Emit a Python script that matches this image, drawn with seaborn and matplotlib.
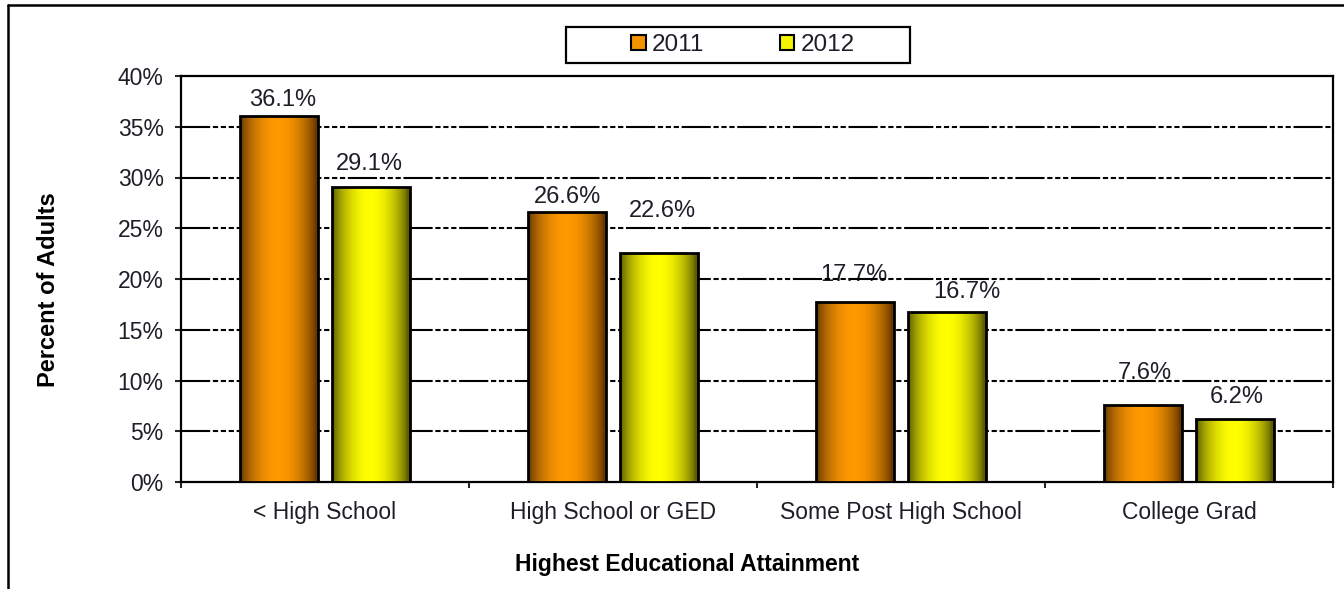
import numpy as np
import pandas as pd
import matplotlib
matplotlib.use("Agg")
import matplotlib.pyplot as plt
import seaborn as sns
from matplotlib.patches import Patch, Rectangle
from matplotlib.lines import Line2D
from matplotlib.ticker import FuncFormatter, FixedLocator

# Share of adults by highest educational attainment
categories = ["< High School", "High School or GED", "Some Post High School", "College Grad"]
years = ["2011", "2012"]
values_2011 = [36.1, 26.6, 17.7, 7.6]
values_2012 = [29.1, 22.6, 16.7, 6.2]
y_ticks = [0, 5, 10, 15, 20, 25, 30, 35, 40]

# value-label placement relative to the top centre of each bar (pixels)
label_dx_2011 = [4, 1, -1, 2]
label_dy_2011 = [16, 15, 27, 32]
label_dx_2012 = [-2, 3, 20, 2]
label_dy_2012 = [23, 42, 20, 22]

bright = {"2011": np.array([1.0, 0.60, 0.0]), "2012": np.array([1.0, 1.0, 0.0])}
dark = {"2011": np.array([0.40, 0.22, 0.0]), "2012": np.array([0.36, 0.36, 0.0])}

df = pd.DataFrame({
    "category": categories * 2,
    "year": [years[0]] * 4 + [years[1]] * 4,
    "value": values_2011 + values_2012,
})

sns.set_style("white")
plt.rcParams["font.family"] = ["Liberation Sans", "DejaVu Sans"]
FS = 16.5
TXT = "#1e1e28"

fig = plt.figure(figsize=(13.44, 5.89), dpi=100)
ax = fig.add_axes([181 / 1344, 1 - 482 / 589, 1152 / 1344, 406 / 589])

sns.barplot(data=df, x="category", y="value", hue="year", hue_order=years,
            order=categories, palette={y: tuple(bright[y]) for y in years},
            width=0.64, gap=0.155, edgecolor="black", linewidth=2.0,
            legend=False, ax=ax, zorder=3)

ax.set_xlim(-0.5, 3.5)
ax.set_ylim(0, 40)

# horizontal shading on each bar: dark edges, bright middle
n = 200
t = np.linspace(0, 1, n)
prof = np.sin(np.pi * np.clip(t * 1.04 - 0.01, 0, 1)) ** 0.75
bars = [p for p in ax.patches if p.get_height() > 0]
for i, bar in enumerate(bars):
    yr = years[0] if i < len(categories) else years[1]
    cols = dark[yr][None, :] + (bright[yr] - dark[yr])[None, :] * prof[:, None]
    img = cols[None, :, :]
    x0, w, h = bar.get_x(), bar.get_width(), bar.get_height()
    im = ax.imshow(img, extent=[x0, x0 + w, 0, h], aspect="auto",
                   interpolation="bilinear", zorder=2.9)
    im.set_clip_path(bar)
    bar.set_facecolor("none")

ax.set_xlim(-0.5, 3.5)
ax.set_ylim(0, 40)

# value labels above bars
vals = values_2011 + values_2012
dxs = label_dx_2011 + label_dx_2012
dys = label_dy_2011 + label_dy_2012
for bar, v, dx, dy in zip(bars, vals, dxs, dys):
    ax.annotate(f"{v:.1f}%", (bar.get_x() + bar.get_width() / 2, v),
                xytext=(dx * 0.72, dy * 0.72), textcoords="offset points",
                ha="center", va="center", fontsize=FS + 0.5, color=TXT, zorder=1)

# dash-dot gridlines
for yv in y_ticks[1:-1]:
    ax.axhline(yv, color="black", linewidth=1.5,
               linestyle=(0, (14, 1.3, 2.5, 1.3, 2.5, 1.3, 2.5, 1.3)), zorder=1.5)

for s in ax.spines.values():
    s.set_visible(True)
    s.set_color("black")
    s.set_linewidth(1.6)

ax.yaxis.set_major_locator(FixedLocator(y_ticks))
ax.yaxis.set_major_formatter(FuncFormatter(lambda v, p: f"{v:.0f}%"))
ax.tick_params(axis="y", which="major", direction="out", length=4.5, width=1.5,
               pad=8, labelsize=FS, labelcolor=TXT, left=True)
ax.set_xticks(range(len(categories)))
ax.set_xticklabels(categories)
ax.set_xticks([-0.5, 0.5, 1.5, 2.5, 3.5], minor=True)
ax.tick_params(axis="x", which="major", length=0, pad=14, labelsize=FS, labelcolor=TXT)
ax.tick_params(axis="x", which="minor", direction="out", length=4.5, width=1.5, bottom=True)

ax.set_xlabel("Highest Educational Attainment", fontsize=FS, fontweight="bold", color="black")
ax.xaxis.set_label_coords(0.439, -0.175)
ax.set_ylabel("Percent of Adults", fontsize=FS + 0.5, fontweight="bold", color="black")
ax.yaxis.set_label_coords(-0.105, 0.473)

# legend with its own box
handles = [Patch(facecolor=tuple(bright[y] * 0.93 + dark[y] * 0.07), edgecolor="black",
                 linewidth=1.5, label=y) for y in years]
fig.legend(handles=handles, loc="center", bbox_to_anchor=(743 / 1344, 1 - 45 / 589),
           ncol=2, frameon=False, fontsize=FS + 1, handlelength=0.6, handleheight=0.6,
           handletextpad=0.25, columnspacing=3.1, labelcolor=TXT)
fig.patches.append(Rectangle((566 / 1344, 1 - 63 / 589), 344 / 1344, 36 / 589,
                             transform=fig.transFigure, fill=False,
                             edgecolor="black", linewidth=1.6))

# outer chart border (left and top edges)
fig.lines.append(Line2D([8 / 1344, 8 / 1344], [0, 1 - 5 / 589], transform=fig.transFigure,
                        color="black", linewidth=1.8))
fig.lines.append(Line2D([8 / 1344, 1.0], [1 - 5 / 589, 1 - 5 / 589], transform=fig.transFigure,
                        color="black", linewidth=1.8))

fig.savefig("out.png", dpi=100, facecolor="white")
